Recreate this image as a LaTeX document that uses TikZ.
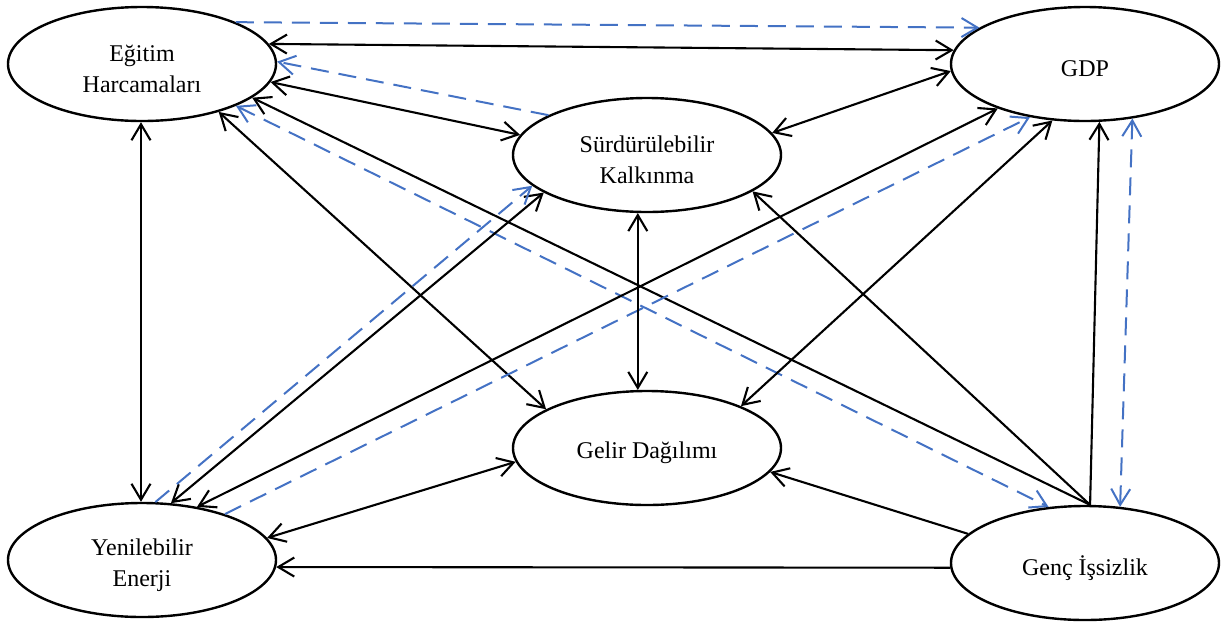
\documentclass[tikz,border=0pt]{standalone}
\usepackage{fontspec}
\setmainfont{Liberation Serif}
\usepackage{tikz}
\usetikzlibrary{arrows.meta,shapes.geometric}
\definecolor{linkblue}{HTML}{4472C4}
\definecolor{ink}{HTML}{000000}
\newcommand{\lowline}[1]{\raisebox{-2.5pt}[\height][\depth]{#1}}
\tikzset{
  varnode/.style={
    draw=ink,
    ellipse,
    line width=1.2pt,
    minimum width=134pt,
    minimum height=57pt,
    inner sep=0pt,
    align=center,
    font=\fontsize{12}{15.5}\selectfont
  },
  bothway/.style={{Straight Barb[length=8pt,width=9.5pt]}-{Straight Barb[length=8pt,width=9.5pt]},line width=1.05pt,draw=ink},
  oneway/.style={-{Straight Barb[length=8pt,width=9.5pt]},line width=1.05pt,draw=ink},
  dashboth/.style={{Straight Barb[length=8pt,width=9.5pt]}-{Straight Barb[length=8pt,width=9.5pt]},line width=1pt,draw=linkblue,dash pattern=on 9pt off 5pt},
  dashone/.style={-{Straight Barb[length=8pt,width=9.5pt]},line width=1pt,draw=linkblue,dash pattern=on 9pt off 5pt}
}
\begin{document}
\begin{tikzpicture}[x=0.5pt,y=-0.5pt]
  \useasboundingbox (0,0) rectangle (1223,623);
  \node[varnode] (egitim) at (142,64) {\lowline{Eğitim}\\\lowline{Harcamaları}};
  \node[varnode] (gdp) at (1085,64) {\lowline{GDP}};
  \node[varnode] (surd) at (647,155) {\lowline{Sürdürülebilir}\\\lowline{Kalkınma}};
  \node[varnode] (gelir) at (647,448) {\lowline{Gelir Dağılımı}};
  \node[varnode] (yenil) at (142,560) {\lowline{Yenilebilir}\\\lowline{Enerji}};
  \node[varnode] (genc) at (1085,563) {\lowline{Genç İşsizlik}};
  \draw[bothway] (egitim.9) -- (gdp.174);
  \draw[dashone] (egitim.24) -- (gdp.161);
  \draw[dashone] (surd.158) -- (egitim.1);
  \draw[bothway] (egitim.-8) -- (surd.171);
  \draw[oneway] (genc.85) -- (egitim.-17);
  \draw[dashboth] (egitim.-24) -- (genc.123);
  \draw[bothway] (egitim.-32) -- (gelir.159);
  \draw[bothway] (egitim.-91) -- (yenil.91);
  \draw[bothway] (surd.10) -- (gdp.-177);
  \draw[bothway] (yenil.44) -- (gdp.207);
  \draw[bothway] (yenil.63) -- (surd.200);
  \draw[dashone] (yenil.77) -- (surd.195);
  \draw[dashone] (yenil.29) -- (gdp.224);
  \draw[bothway] (gelir.24) -- (gdp.240);
  \draw[bothway] (surd.261) -- (gelir.99);
  \draw[bothway] (gelir.186) -- (yenil.10);
  \draw[oneway] (genc.182) -- (yenil.-3);
  \draw[oneway] (genc.166) -- (gelir.-11);
  \draw[oneway] (genc.85) -- (surd.-19);
  \draw[oneway] (genc.85) -- (gdp.-76);
  \draw[dashboth] (gdp.-49) -- (genc.58);
\end{tikzpicture}
\end{document}
